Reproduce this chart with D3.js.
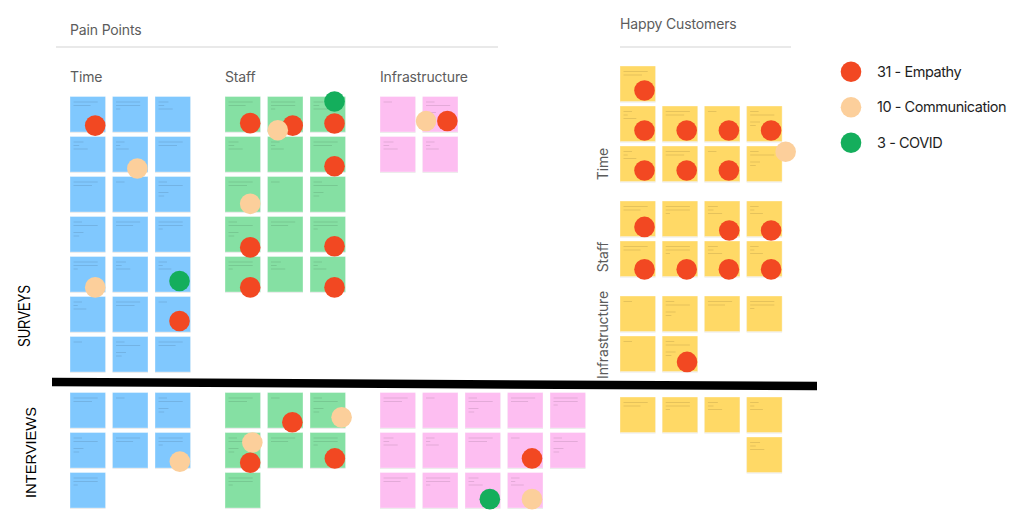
<!DOCTYPE html>
<html><head><meta charset="utf-8">
<script src="https://cdn.jsdelivr.net/npm/d3@7"></script>
<style>body{margin:0;background:#fff}svg{display:block}</style>
</head><body>
<svg id="c" width="1024" height="529"></svg>
<script>
// ---------------- DATA ----------------
const voteTypes = ["Empathy", "Communication", "COVID"];
const voteCounts = [31, 10, 3];
const sectionTitles = ["Pain Points", "Happy Customers"];
const themes = ["Time", "Staff", "Infrastructure"];
const sources = ["SURVEYS", "INTERVIEWS"];

// sticky notes: for each cluster, occupied column indices per row
const painSurveyTime = [[0,1,2],[0,1,2],[0,1,2],[0,1,2],[0,1,2],[0,1,2],[0,1,2]];
const painSurveyStaff = [[0,1,2],[0,1,2],[0,1,2],[0,1,2],[0,1,2]];
const painSurveyInfra = [[0,1],[0,1]];
const painInterviewTime = [[0,1,2],[0,1,2],[0]];
const painInterviewStaff = [[0,1,2],[0,1,2],[0]];
const painInterviewInfra = [[0,1,2,3,4],[0,1,2,3,4],[0,1,2,3]];
const happySurveyTime = [[0],[0,1,2,3],[0,1,2,3]];
const happySurveyStaff = [[0,1,2,3],[0,1,2,3]];
const happySurveyInfra = [[0,1,2,3],[0,1]];
const happyInterview = [[0,1,2,3],[3]];

// votes: cluster, row, col, type, spot on the note (fraction across, fraction down)
const votes = [
  ["painSurveyTime",0,0,"Empathy",.71,.82],
  ["painSurveyTime",1,1,"Communication",.70,.90],
  ["painSurveyTime",4,0,"Communication",.71,.87],
  ["painSurveyTime",4,2,"COVID",.69,.69],
  ["painSurveyTime",5,2,"Empathy",.69,.69],
  ["painSurveyStaff",0,0,"Empathy",.71,.75],
  ["painSurveyStaff",0,1,"Empathy",.71,.82],
  ["painSurveyStaff",0,1,"Communication",.29,.95],
  ["painSurveyStaff",0,2,"COVID",.69,.14],
  ["painSurveyStaff",0,2,"Empathy",.69,.76],
  ["painSurveyStaff",1,2,"Empathy",.69,.84],
  ["painSurveyStaff",2,0,"Communication",.71,.77],
  ["painSurveyStaff",3,0,"Empathy",.71,.87],
  ["painSurveyStaff",3,2,"Empathy",.69,.84],
  ["painSurveyStaff",4,0,"Empathy",.71,.87],
  ["painSurveyStaff",4,2,"Empathy",.69,.87],
  ["painSurveyInfra",0,1,"Communication",.10,.69],
  ["painSurveyInfra",0,1,"Empathy",.70,.69],
  ["painInterviewTime",1,2,"Communication",.70,.82],
  ["painInterviewStaff",0,1,"Empathy",.70,.84],
  ["painInterviewStaff",0,2,"Communication",.89,.70],
  ["painInterviewStaff",1,0,"Communication",.77,.28],
  ["painInterviewStaff",1,0,"Empathy",.71,.85],
  ["painInterviewStaff",1,2,"Empathy",.70,.73],
  ["painInterviewInfra",1,3,"Empathy",.69,.73],
  ["painInterviewInfra",2,2,"COVID",.70,.75],
  ["painInterviewInfra",2,3,"Communication",.69,.75],
  ["happySurveyTime",0,0,"Empathy",.69,.69],
  ["happySurveyTime",1,0,"Empathy",.69,.69],
  ["happySurveyTime",1,1,"Empathy",.69,.69],
  ["happySurveyTime",1,2,"Empathy",.69,.69],
  ["happySurveyTime",1,3,"Empathy",.69,.69],
  ["happySurveyTime",2,0,"Empathy",.69,.69],
  ["happySurveyTime",2,1,"Empathy",.69,.69],
  ["happySurveyTime",2,2,"Empathy",.69,.69],
  ["happySurveyTime",2,3,"Communication",1.10,.16],
  ["happySurveyStaff",0,0,"Empathy",.69,.73],
  ["happySurveyStaff",0,2,"Empathy",.70,.83],
  ["happySurveyStaff",0,3,"Empathy",.69,.83],
  ["happySurveyStaff",1,0,"Empathy",.69,.80],
  ["happySurveyStaff",1,1,"Empathy",.69,.80],
  ["happySurveyStaff",1,2,"Empathy",.69,.80],
  ["happySurveyStaff",1,3,"Empathy",.69,.80],
  ["happySurveyInfra",1,1,"Empathy",.70,.73]
];

// ---------------- STYLE / LAYOUT ----------------
const NOTE = 35.5, PITCH_Y = 40;
const noteColors = {Time: "#80C8FE", Staff: "#85E0A3", Infrastructure: "#FDBEF1", Happy: "#FFD966"};
const voteColors = {Empathy: "#F24822", Communication: "#FCCF9B", COVID: "#14AE5C"};
const clusters = {
  painSurveyTime:     {notes: painSurveyTime,     theme: "Time",           x0: 70,  pitch: 42.5, y0: 96.5},
  painSurveyStaff:    {notes: painSurveyStaff,    theme: "Staff",          x0: 225, pitch: 42.5, y0: 96.5},
  painSurveyInfra:    {notes: painSurveyInfra,    theme: "Infrastructure", x0: 380, pitch: 42.5, y0: 96.5},
  painInterviewTime:  {notes: painInterviewTime,  theme: "Time",           x0: 70,  pitch: 42.5, y0: 392.5},
  painInterviewStaff: {notes: painInterviewStaff, theme: "Staff",          x0: 225, pitch: 42.5, y0: 392.5},
  painInterviewInfra: {notes: painInterviewInfra, theme: "Infrastructure", x0: 380, pitch: 42.5, y0: 392.5},
  happySurveyTime:    {notes: happySurveyTime,    theme: "Happy", x0: 620, pitch: 42.2, y0: 66},
  happySurveyStaff:   {notes: happySurveyStaff,   theme: "Happy", x0: 620, pitch: 42.2, y0: 201},
  happySurveyInfra:   {notes: happySurveyInfra,   theme: "Happy", x0: 620, pitch: 42.2, y0: 296},
  happyInterview:     {notes: happyInterview,     theme: "Happy", x0: 620, pitch: 42.2, y0: 397}
};
Object.values(clusters).forEach(c => {
  c.x = d3.scaleLinear().domain([0, 1]).range([c.x0, c.x0 + c.pitch]);
  c.y = d3.scaleLinear().domain([0, 1]).range([c.y0, c.y0 + PITCH_Y]);
});
const within = d3.scaleLinear().domain([0, 1]).range([0, NOTE]);
// decorative scribble patterns on notes: [offset down, fraction of width]
const scribbles = [
  [[5.5, .85], [9, .6]],
  [[5.5, .3]],
  [[5.5, .3], [9, .15], [12.5, .45]],
  [[5.5, .85], [9, .85], [12.5, .15]],
  [[5.5, .3], [9, .85], [16, .35], [19.5, .2]],
  [[5.5, .85], [9, .65]],
  [[5.5, .35], [9, .2], [12.5, .5]]
];

const svg = d3.select("#c");
const FONT = "Inter, 'Noto Sans', sans-serif";

// header texts and rules
svg.append("text").attr("x", 70).attr("y", 35).text(sectionTitles[0])
  .attr("font-family", FONT).attr("font-size", 14).attr("letter-spacing", -0.15).attr("fill", "#5c5c5c");
svg.append("text").attr("x", 620).attr("y", 29).text(sectionTitles[1])
  .attr("font-family", FONT).attr("font-size", 14).attr("letter-spacing", -0.15).attr("fill", "#5c5c5c");
svg.append("line").attr("x1", 56).attr("x2", 498).attr("y1", 47).attr("y2", 47)
  .attr("stroke", "#e2e2e2").attr("stroke-width", 1.6);
svg.append("line").attr("x1", 620).attr("x2", 791).attr("y1", 47).attr("y2", 47)
  .attr("stroke", "#e2e2e2").attr("stroke-width", 1.6);

// theme labels above pain point clusters
svg.selectAll("text.theme").data(themes).join("text").attr("class", "theme")
  .attr("x", d => clusters["painSurvey" + (d === "Infrastructure" ? "Infra" : d)].x0)
  .attr("y", 82).text(d => d)
  .attr("font-family", FONT).attr("font-size", 14).attr("letter-spacing", -0.15).attr("fill", "#5c5c5c");

// rotated theme labels for happy customers
const happyLabelY = {Time: 164, Staff: 257, Infrastructure: 335};
svg.selectAll("text.htheme").data(themes).join("text").attr("class", "htheme")
  .attr("transform", d => `translate(608,${happyLabelY[d]}) rotate(-90)`)
  .attr("text-anchor", "middle").text(d => d)
  .attr("font-family", FONT).attr("font-size", 14).attr("letter-spacing", -0.15).attr("fill", "#5c5c5c");

// source labels
const srcLabel = [
  {t: sources[0], x: 30, y: 316, fs: 16, len: 62},
  {t: sources[1], x: 35.5, y: 452.5, fs: 15.5, len: 91}
];
svg.selectAll("text.src").data(srcLabel).join("text").attr("class", "src")
  .attr("transform", d => `translate(${d.x},${d.y}) rotate(-90)`)
  .attr("text-anchor", "middle").text(d => d.t)
  .attr("textLength", d => d.len).attr("lengthAdjust", "spacingAndGlyphs")
  .attr("font-family", "'Liberation Sans', Arial, sans-serif")
  .attr("font-size", d => d.fs).attr("fill", "#000");

// notes
const notes = [];
Object.entries(clusters).forEach(([key, c]) => {
  c.notes.forEach((cols, r) => cols.forEach(col => notes.push({key, c, r, col})));
});
const ng = svg.append("g");
const nEnter = ng.selectAll("g.note").data(notes).join("g").attr("class", "note")
  .attr("transform", d => `translate(${d.c.x(d.col)},${d.c.y(d.r)})`);
nEnter.append("rect").attr("x", 0).attr("y", 1).attr("width", NOTE).attr("height", NOTE)
  .attr("fill", "#e8e8e8");
nEnter.append("rect").attr("width", NOTE).attr("height", NOTE)
  .attr("fill", d => noteColors[d.c.theme])
  .attr("stroke", "rgba(255,255,255,0.35)").attr("stroke-width", 1);
nEnter.each(function(d, i) {
  const pat = scribbles[(d.r * 3 + d.col * 2 + i) % scribbles.length];
  d3.select(this).selectAll("line").data(pat).join("line")
    .attr("x1", 3.5).attr("x2", p => 3.5 + p[1] * (NOTE - 7))
    .attr("y1", p => p[0]).attr("y2", p => p[0])
    .attr("stroke", "rgba(0,0,0,0.1)").attr("stroke-width", 1);
});

// divider
svg.append("line").attr("x1", 52).attr("y1", 382).attr("x2", 817).attr("y2", 386)
  .attr("stroke", "#000").attr("stroke-width", 8.5);

// votes
svg.append("g").selectAll("circle").data(votes).join("circle")
  .attr("cx", d => clusters[d[0]].x(d[2]) + within(d[4]))
  .attr("cy", d => clusters[d[0]].y(d[1]) + within(d[5]))
  .attr("r", 10.3)
  .attr("fill", d => voteColors[d[3]]);

// legend
const legY = d3.scalePoint().domain(voteTypes).range([71.7, 142.7]);
const lg = svg.append("g").selectAll("g").data(voteTypes).join("g")
  .attr("transform", d => `translate(851,${legY(d)})`);
lg.append("circle").attr("r", 10.3).attr("fill", d => voteColors[d]);
lg.append("text").attr("x", 26).attr("y", 5.2)
  .text((d, i) => `${voteCounts[i]} - ${d}`)
  .attr("font-family", FONT).attr("font-size", 14.5).attr("letter-spacing", -0.45)
  .attr("fill", "#1e1e1e");
</script>
</body></html>
